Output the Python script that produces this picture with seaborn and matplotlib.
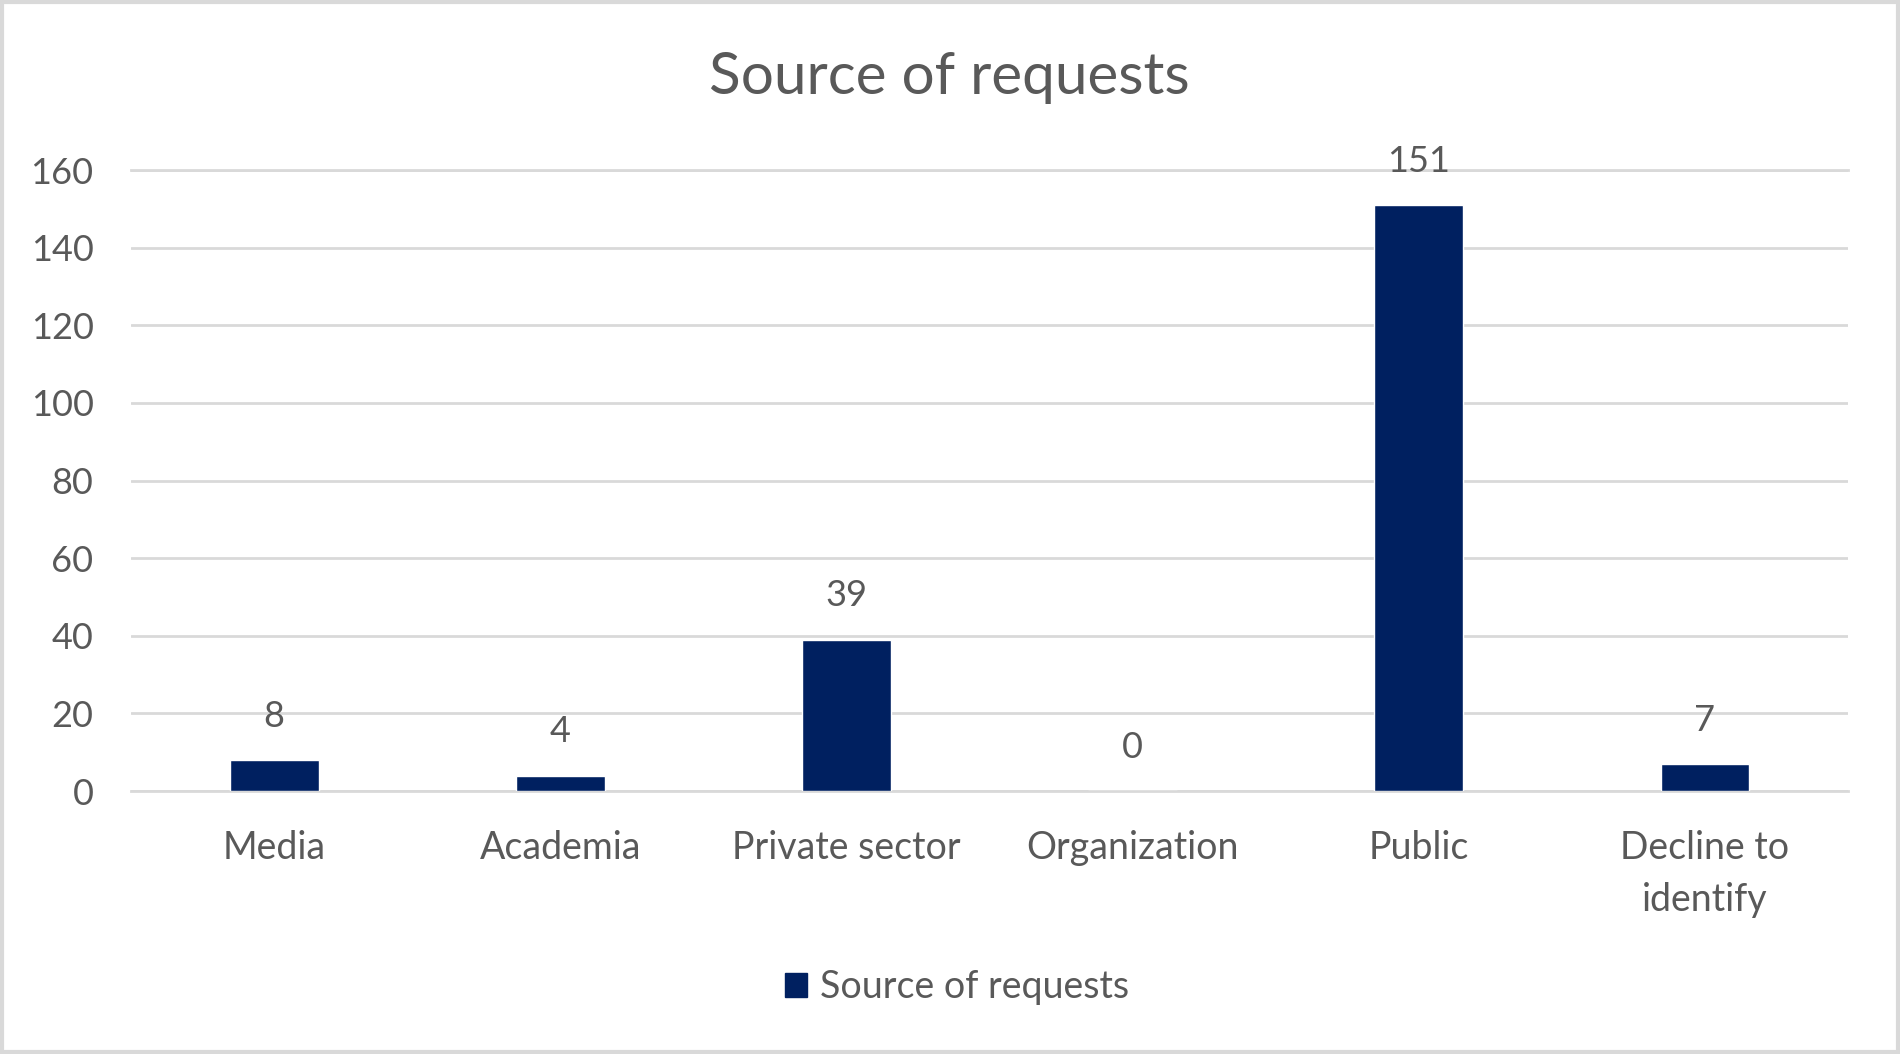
import matplotlib
matplotlib.use("Agg")
import matplotlib.pyplot as plt
from matplotlib.patches import Patch, Rectangle
import seaborn as sns
import pandas as pd

categories = ["Media", "Academia", "Private sector", "Organization", "Public", "Decline to\nidentify"]
requests = [8, 4, 39, 0, 151, 7]
y_ticks = [0, 20, 40, 60, 80, 100, 120, 140, 160]
series_name = "Source of requests"

BAR_COLOR = "#002060"
GRID_COLOR = "#D9D9D9"
TEXT_COLOR = "#595959"

sns.set_theme(style="white")
plt.rcParams["font.family"] = ["Lato", "DejaVu Sans"]

df = pd.DataFrame({"category": categories, "count": requests})

fig = plt.figure(figsize=(19, 10.54), dpi=100)
ax = fig.add_axes([0.069, 0.2495, 0.9036, 0.5892])

sns.barplot(data=df, x="category", y="count", color=BAR_COLOR, width=0.31,
            saturation=1, ax=ax, zorder=3)

ax.set_ylim(0, 160)
ax.set_yticks(y_ticks)
ax.yaxis.grid(True, color=GRID_COLOR, linewidth=2, zorder=0)
ax.set_axisbelow(True)
for side in ["left", "right"]:
    ax.spines[side].set_visible(False)
for side in ["top", "bottom"]:
    ax.spines[side].set_color(GRID_COLOR)
    ax.spines[side].set_linewidth(2)

ax.set_xlabel("")
ax.set_ylabel("")
ax.tick_params(axis="y", length=0, pad=27, labelsize=26, labelcolor=TEXT_COLOR)
ax.tick_params(axis="x", length=0, pad=28, labelsize=27, labelcolor=TEXT_COLOR)
for lbl in ax.get_xticklabels():
    lbl.set_linespacing(1.55)

# data labels above bars
for i, v in enumerate(requests):
    ax.annotate(str(v), xy=(i, v), xytext=(0, 31.5), textcoords="offset points",
                ha="center", va="center", fontsize=26, color=TEXT_COLOR)

fig.text(0.4995, 1 - 78 / 1054, series_name, ha="center", va="center",
         fontsize=42, color=TEXT_COLOR)

handle = Patch(facecolor=BAR_COLOR, edgecolor=BAR_COLOR, label=series_name)
fig.legend(handles=[handle], loc="center", bbox_to_anchor=(957 / 1900, 1 - 987 / 1054),
           frameon=False, fontsize=27, labelcolor=TEXT_COLOR,
           handlelength=0.6, handleheight=0.6, handletextpad=0.35)

fig.patches.append(Rectangle((0.001, 0.002), 0.998, 0.996, transform=fig.transFigure,
                             fill=False, edgecolor=GRID_COLOR, linewidth=3))

fig.savefig("out.png", dpi=100)
